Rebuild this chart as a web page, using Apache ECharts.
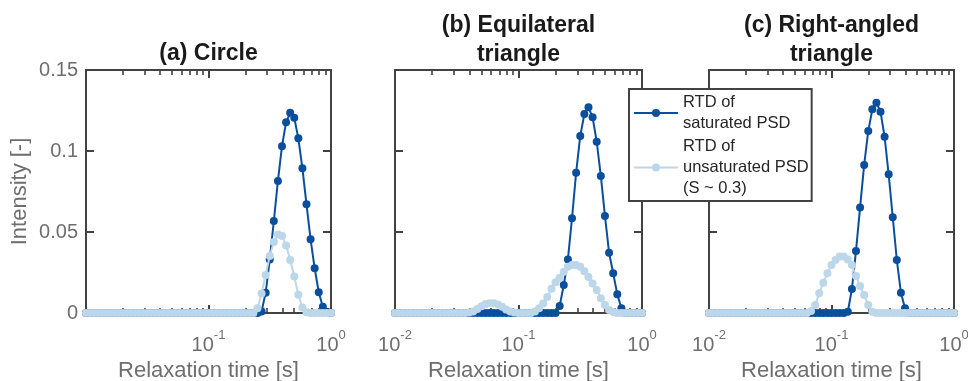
<!DOCTYPE html>
<html><head><meta charset="utf-8">
<script src="https://cdn.jsdelivr.net/npm/echarts@6/dist/echarts.min.js"></script>
<style>html,body{margin:0;padding:0;background:#fff}#c{width:968px;height:381px}</style>
</head><body><div id="c"></div>
<script>
// ---- data ----
const xGrid = [
  0.01, 0.010798, 0.011659, 0.012589, 0.013594, 0.014678, 0.015849, 0.017113, 0.018478, 0.019953,
  0.021544, 0.023263, 0.025119, 0.027123, 0.029286, 0.031623, 0.034145, 0.036869, 0.039811, 0.042987,
  0.046416, 0.050119, 0.054117, 0.058434, 0.063096, 0.068129, 0.073564, 0.079433, 0.085770, 0.092612,
  0.1, 0.10798, 0.11659, 0.12589, 0.13594, 0.14678, 0.15849, 0.17113, 0.18478, 0.19953,
  0.21544, 0.23263, 0.25119, 0.27123, 0.29286, 0.31623, 0.34145, 0.36869, 0.39811, 0.42987,
  0.46416, 0.50119, 0.54117, 0.58434, 0.63096, 0.68129, 0.73564, 0.79433, 0.85770, 0.92612,
  1.0
];
const satA = [
  0,0,0,0,0,0,0,0,0,0,
  0,0,0,0,0,0,0,0,0,0,
  0,0,0,0,0,0,0,0,0,0,
  0,0,0,0,0,0,0,0,0,0,
  0,0,0,0.001,0.0125,0.033,0.0568,0.0815,0.103,0.1177,
  0.1236,0.1206,0.1078,0.0893,0.0671,0.0455,0.0276,0.0128,0.0039,0.0008,
  0
];
const unsatA = [
  0,0,0,0,0,0,0,0,0,0,
  0,0,0,0,0,0,0,0,0,0,
  0,0,0,0,0,0,0,0,0,0,
  0,0,0,0,0,0,0,0,0,0,
  0,0,0.0029,0.012,0.0235,0.0352,0.0438,0.0484,0.0476,0.0417,
  0.0327,0.0226,0.0113,0.0034,0.0005,0,0,0,0,0,
  0
];
const satB = [
  0,0,0,0,0,0,0,0,0,0,
  0,0,0,0,0,0,0,0,0,0,
  0,0,0,0,0,0,0,0,0,0,
  0,0,0,0,0,0,0,0,0,0,
  0.0043,0.0173,0.0331,0.0585,0.0866,0.1093,0.1228,0.127,0.1208,0.1057,
  0.0846,0.0599,0.0372,0.0245,0.0115,0.0029,0,0,0,0,
  0
];
const unsatB = [
  0,0,0,0,0,0,0,0,0,0,
  0,0,0,0,0,0,0,0,0.0003,0.001,
  0.0024,0.0042,0.0055,0.006,0.006,0.0052,0.0038,0.0022,0.001,0.0003,
  0,0,0,0,0.001,0.003,0.0058,0.0098,0.015,0.019,
  0.0218,0.0255,0.0285,0.0296,0.0296,0.0286,0.0258,0.0222,0.0182,0.0142,
  0.0091,0.0049,0.0019,0.0006,0,0,0,0,0,0,
  0
];
const satC = [
  0,0,0,0,0,0,0,0,0,0,
  0,0,0,0,0,0,0,0,0,0,
  0,0,0,0,0,0,0,0,0,0,
  0,0,0,0,0.0008,0.0148,0.0383,0.0652,0.0914,0.1123,
  0.1257,0.1298,0.1243,0.1088,0.0856,0.0591,0.0327,0.0125,0.0029,0,
  0,0,0,0,0,0,0,0,0,0,
  0
];
const unsatC = [
  0,0,0,0,0,0,0,0,0,0,
  0,0,0,0,0,0,0,0,0,0,
  0,0,0,0,0,0.0012,0.0049,0.0122,0.0187,0.0245,
  0.0296,0.0327,0.0348,0.0348,0.0331,0.0296,0.0228,0.0167,0.0111,0.0049,
  0.0008,0,0,0,0,0,0,0,0,0,
  0,0,0,0,0,0,0,0,0,0,
  0
];
const panelTitles = ['(a) Circle', '(b) Equilateral\ntriangle', '(c) Right-angled\ntriangle'];
const seriesNames = ['RTD of\nsaturated PSD', 'RTD of\nunsaturated PSD\n(S ~ 0.3)'];
const xMajorTicks = [0.01, 0.1, 1];
const xMajorExps = ['-2', '-1', '0'];
const xLabelTicksA = [0.1, 1];
const xMinorTicks = [0.02,0.03,0.04,0.05,0.06,0.07,0.08,0.09,0.2,0.3,0.4,0.5,0.6,0.7,0.8,0.9];
const yMin = 0, yMax = 0.15, yStep = 0.05;
const xName = 'Relaxation time [s]';
const yName = 'Intensity [-]';

// ---- layout / style ----
const FONT = '"Liberation Sans", Arial, Helvetica, sans-serif';
const AX = '#424242';
const LBL = '#6e6e6e';
const DARK = '#0b4f9c';
const LIGHT = '#bcd6ea';
const TOP = 70, H = 243;
const panels = [
  { left: 86, width: 245, sat: satA, unsat: unsatA, labels: xLabelTicksA },
  { left: 395, width: 247, sat: satB, unsat: unsatB, labels: xMajorTicks },
  { left: 709, width: 245, sat: satC, unsat: unsatC, labels: xMajorTicks }
];
// tick-only helper axes live in log10 space of the same range
const logMin = Math.log10(xMajorTicks[0]), logMax = Math.log10(xMajorTicks[xMajorTicks.length - 1]);
const minorLog = xMinorTicks.map(v => Math.log10(v));

const lineOn = () => ({ show: true, onZero: false, lineStyle: { color: AX, width: 2 } });
const lineOff = () => ({ show: false, onZero: false });
const majorTick = () => ({ show: true, inside: true, length: 8, lineStyle: { color: AX, width: 2 } });
const minorTick = () => ({ show: true, inside: true, length: 5, customValues: minorLog.slice(), lineStyle: { color: AX, width: 1.6 } });

const grid = [], xAxis = [], yAxis = [], series = [], graphic = [];
function expOf(v) {
  const i = xMajorTicks.findIndex(t => Math.abs(t - v) / t < 1e-6);
  return i >= 0 ? xMajorExps[i] : '';
}
panels.forEach((p, g) => {
  grid.push({ left: p.left, top: TOP, width: p.width, height: H, containLabel: false, outerBoundsMode: 'none' });
  // bottom major (data axis, labels)
  xAxis.push({
    type: 'log', logBase: 10, min: xMajorTicks[0], max: 1, interval: 1, gridIndex: g, splitLine: { show: false },
    position: 'bottom', axisLine: lineOn(), axisTick: majorTick(),
    axisLabel: {
      show: true, customValues: p.labels.slice(), margin: 16, color: LBL,
      formatter: v => '{b|10}{s|' + expOf(v) + '}',
      rich: {
        b: { fontSize: 20, lineHeight: 26, fontFamily: FONT, color: LBL, verticalAlign: 'bottom' },
        s: { fontSize: 13, lineHeight: 13, fontFamily: FONT, color: LBL, verticalAlign: 'top' }
      }
    },
    name: xName, nameLocation: 'middle', nameGap: 43,
    nameTextStyle: { fontSize: 22, fontFamily: FONT, color: LBL }
  });
  // top major
  xAxis.push({
    type: 'log', logBase: 10, min: xMajorTicks[0], max: 1, interval: 1, gridIndex: g, splitLine: { show: false },
    position: 'top', axisLine: lineOn(), axisTick: majorTick(), axisLabel: { show: false }
  });
  // minor ticks bottom / top
  ['bottom', 'top'].forEach(pos => {
    xAxis.push({
      type: 'value', min: logMin, max: logMax, gridIndex: g, position: pos,
      axisLine: lineOff(), splitLine: { show: false }, axisLabel: { show: false },
      axisTick: minorTick()
    });
  });
  yAxis.push({
    type: 'value', min: yMin, max: yMax, interval: yStep, gridIndex: g, splitLine: { show: false },
    position: 'left', axisLine: lineOn(), axisTick: majorTick(),
    axisLabel: { show: g === 0, margin: 8, fontSize: 20, fontFamily: FONT, color: LBL },
    name: g === 0 ? yName : '', nameLocation: 'middle', nameGap: 55,
    nameTextStyle: { fontSize: 22, fontFamily: FONT, color: LBL }
  });
  yAxis.push({
    type: 'value', min: yMin, max: yMax, interval: yStep, gridIndex: g, splitLine: { show: false },
    position: 'right', axisLine: lineOn(), axisTick: majorTick(), axisLabel: { show: false }
  });

  [[p.sat, DARK, seriesNames[0]], [p.unsat, LIGHT, seriesNames[1]]].forEach(([vals, col, nm], k) => {
    series.push({
      type: 'line', name: nm, xAxisIndex: g * 4, yAxisIndex: g * 2,
      data: xGrid.map((x, i) => [x, vals[i]]),
      symbol: 'circle', symbolSize: 8, showSymbol: true, showAllSymbol: true, clip: false,
      lineStyle: { color: col, width: 2 }, itemStyle: { color: col },
      z: 2 + k, animation: false
    });
  });

  graphic.push({
    type: 'text', x: p.left + p.width / 2, y: g === 0 ? 39 : 11, z: 10,
    style: {
      text: panelTitles[g], textAlign: 'center', textVerticalAlign: 'top', align: 'center', verticalAlign: 'top',
      fontSize: 23, fontWeight: 'bold', fontFamily: FONT, lineHeight: 29, fill: '#1a1a1a'
    }
  });
});

const chart = echarts.init(document.getElementById('c'), null, { renderer: 'canvas' });
chart.setOption({
  animation: false,
  backgroundColor: '#fff',
  grid, xAxis, yAxis, series, graphic,
  legend: {
    data: seriesNames, orient: 'vertical', left: 629, top: 89,
    padding: [3, 3, 2, 4], itemGap: 2, itemWidth: 44, itemHeight: 10,
    backgroundColor: '#fff', borderColor: AX, borderWidth: 2, borderRadius: 0,
    selectedMode: false, z: 20,
    textStyle: { fontSize: 16.5, lineHeight: 21, fontFamily: FONT, color: '#262626' }
  }
});
</script>
</body></html>
